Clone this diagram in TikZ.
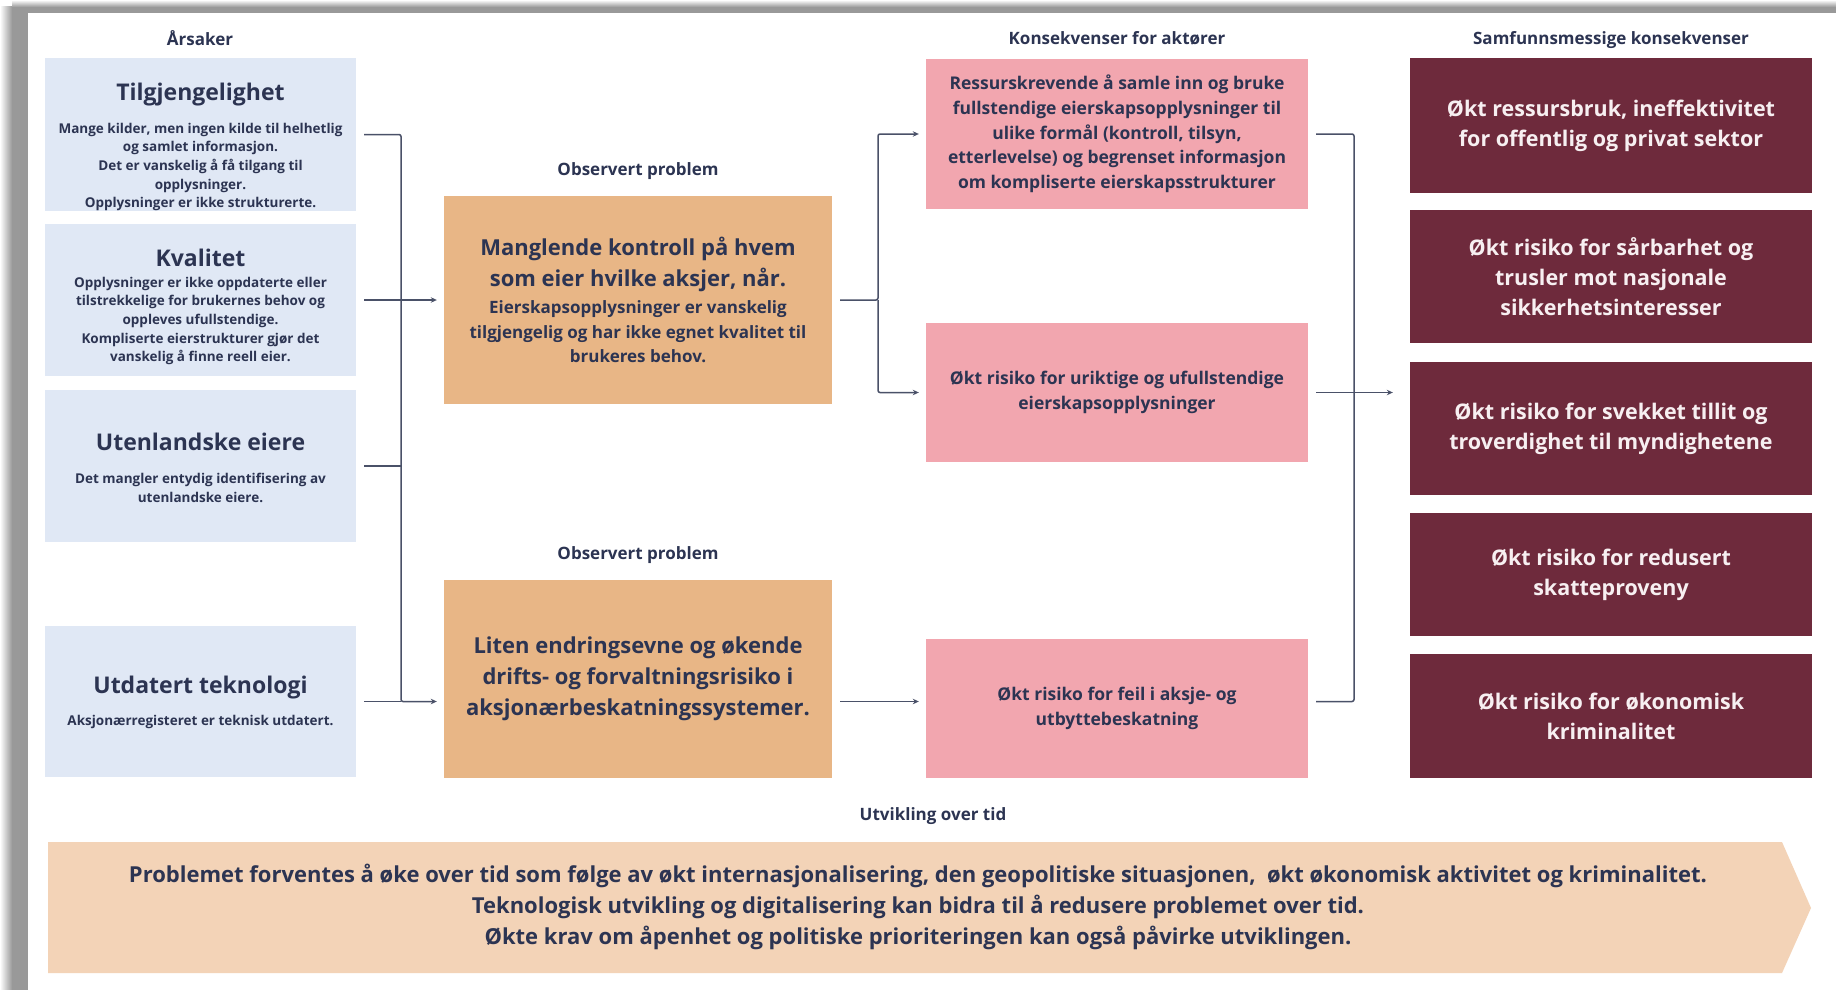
\documentclass[tikz,border=0pt]{standalone}
\usepackage{fontspec}
\setmainfont{Open Sans}
\usetikzlibrary{arrows.meta}
\definecolor{ink}{HTML}{2C3452}
\definecolor{wirecol}{HTML}{4A5168}
\definecolor{causefill}{HTML}{E0E8F5}
\definecolor{probfill}{HTML}{E8B686}
\definecolor{actfill}{HTML}{F2A6AF}
\definecolor{socfill}{HTML}{6E2A3C}
\definecolor{socink}{HTML}{F7EFF1}
\definecolor{trendfill}{HTML}{F3D3B7}

\begin{document}
\begin{tikzpicture}[x=1pt,y=-1pt,
		head/.style={font=\bfseries\fontsize{17}{20}\selectfont, text=ink},
		cause/.style={fill=causefill, minimum width=311pt},
		ctitle/.style={font=\bfseries\fontsize{23}{26}\selectfont, text=ink},
		cbody/.style={font=\bfseries\fontsize{13.5}{18.7}\selectfont, text=ink, align=center},
		problem/.style={fill=probfill, minimum width=388pt},
		ptitle/.style={font=\bfseries\fontsize{22}{31}\selectfont, text=ink, align=center},
		pbody/.style={font=\bfseries\fontsize{17}{24.5}\selectfont, text=ink, align=center},
		actor/.style={fill=actfill, minimum width=382pt, minimum height=139pt, align=center, text=ink, font=\bfseries\fontsize{17.5}{24.7}\selectfont},
		society/.style={fill=socfill, minimum width=402pt, align=center, text=socink, font=\bfseries\fontsize{21.5}{30}\selectfont},
		wire/.style={draw=wirecol, line width=1.5pt, rounded corners=2pt, shorten <=8pt, shorten >=8pt},
		link/.style={wire, -{Stealth[length=6pt,width=5.5pt]}, shorten >=7pt}]
	\useasboundingbox (0,0) rectangle (1836,990);
	% page and its shadow
	\fill[black!40] (12,7) rectangle (1836,990);
	\fill[left color=white, right color=black!40] (0,7) rectangle (12,990);
	\fill[top color=white, bottom color=black!40] (12,0) rectangle (1836,7);
	\fill[white] (28,13) rectangle (1836,990);

	% causes
	\node[head] (arsak) at (200,38) {Årsaker};
	\node[cause, minimum height=153pt] (tilg) at (200.5,134.5) {};
	\node[ctitle] (tilgT) at (200.5,94.5) {Tilgjengelighet};
	\node[cbody] (tilgB) at (200.5,167) {Mange kilder, men ingen kilde til helhetlig\\og samlet informasjon.\\Det er vanskelig å få tilgang til\\opplysninger.\\Opplysninger er ikke strukturerte.};
	\node[cause, minimum height=152pt] (kval) at (200.5,300) {};
	\node[ctitle] (kvalT) at (200.5,257.5) {Kvalitet};
	\node[cbody] (kvalB) at (200.5,321) {Opplysninger er ikke oppdaterte eller\\tilstrekkelige for brukernes behov og\\oppleves ufullstendige.\\Kompliserte eierstrukturer gjør det\\vanskelig å finne reell eier.};
	\node[cause, minimum height=152pt] (utl) at (200.5,466) {};
	\node[ctitle] (utlT) at (200.5,442) {Utenlandske eiere};
	\node[cbody] (utlB) at (200.5,488) {Det mangler entydig identifisering av\\utenlandske eiere.};
	\node[cause, minimum height=151pt] (utd) at (200.5,701.5) {};
	\node[ctitle] (utdT) at (200.5,688) {Utdatert teknologi};
	\node[cbody] (utdB) at (200.5,722) {Aksjonærregisteret er teknisk utdatert.};

	% observed problems
	\node[head] (obs1) at (638,171) {Observert problem};
	\node[problem, minimum height=208pt] (prob1) at (638,300) {};
	\node[ptitle] (prob1T) at (638,264.5) {Manglende kontroll på hvem\\som eier hvilke aksjer, når.};
	\node[pbody] (prob1B) at (638,332) {Eierskapsopplysninger er vanskelig\\tilgjengelig og har ikke egnet kvalitet til\\brukeres behov.};
	\node[head] (obs2) at (638,555) {Observert problem};
	\node[problem, ptitle, minimum height=198pt] (prob2) at (638,679) {Liten endringsevne og økende\\drifts- og forvaltningsrisiko i\\aksjonærbeskatningssystemer.};

	% consequences for actors
	\node[head] (konsA) at (1117,38) {Konsekvenser for aktører};
	\node[actor, minimum height=150pt] (cons1) at (1117,134) {Ressurskrevende å samle inn og bruke\\fullstendige eierskapsopplysninger til\\ulike formål (kontroll, tilsyn,\\etterlevelse) og begrenset informasjon\\om kompliserte eierskapsstrukturer};
	\node[actor] (cons2) at (1117,392.5) {Økt risiko for uriktige og ufullstendige\\eierskapsopplysninger};
	\node[actor] (cons3) at (1117,708.5) {Økt risiko for feil i aksje- og\\utbyttebeskatning};

	% consequences for society
	\node[head] (konsS) at (1611,40) {Samfunnsmessige konsekvenser};
	\node[society, minimum height=135pt] (eff1) at (1611,125.5) {Økt ressursbruk, ineffektivitet\\for offentlig og privat sektor};
	\node[society, minimum height=133pt] (eff2) at (1611,276.5) {Økt risiko for sårbarhet og\\trusler mot nasjonale\\sikkerhetsinteresser};
	\node[society, minimum height=133pt] (eff3) at (1611,428.5) {Økt risiko for svekket tillit og\\troverdighet til myndighetene};
	\node[society, minimum height=123pt] (eff4) at (1611,574.5) {Økt risiko for redusert\\skatteproveny};
	\node[society, minimum height=124pt] (eff5) at (1611,716) {Økt risiko for økonomisk\\kriminalitet};

	% development over time
	\node[head] (utv) at (933,816) {Utvikling over tid};
	\fill[trendfill] (48,842) -- (1782,842) -- (1811,908) -- (1782,973) -- (48,973) -- cycle;
	\node[ptitle] (trend) at (918,907) {Problemet forventes å øke over tid som følge av økt internasjonalisering, den geopolitiske situasjonen,\ \ økt økonomisk aktivitet og kriminalitet.\\Teknologisk utvikling og digitalisering kan bidra til å redusere problemet over tid.\\Økte krav om åpenhet og politiske prioriteringen kan også påvirke utviklingen.};

	% connectors
	\coordinate (busL) at (401,0);
	\coordinate (busM) at (878,0);
	\coordinate (busR) at (1354,0);
	\draw[link] (tilg.east) -- (tilg.east -| busL) |- (utd.east -| prob2.west);
	\draw[link] (kval.east) -- (prob1.west);
	\draw[wire, shorten >=0pt] (utl.east) -- (utl.east -| busL);
	\draw[wire, shorten >=0pt] (utd.east) -- (utd.east -| busL);
	\draw[link] (prob1.east) -- (prob1.east -| busM) |- (cons1.west);
	\draw[link, shorten <=0pt] (prob1.east -| busM) |- (cons2.west);
	\draw[link] (utd.east -| prob2.east) -- (utd.east -| cons3.west);
	\draw[wire] (cons1.east) -| (busR |- utd.east) -- (utd.east -| cons3.east);
	\draw[link, shorten >=17pt] (cons2.east) -- (cons2.east -| eff3.west);
\end{tikzpicture}
\end{document}
